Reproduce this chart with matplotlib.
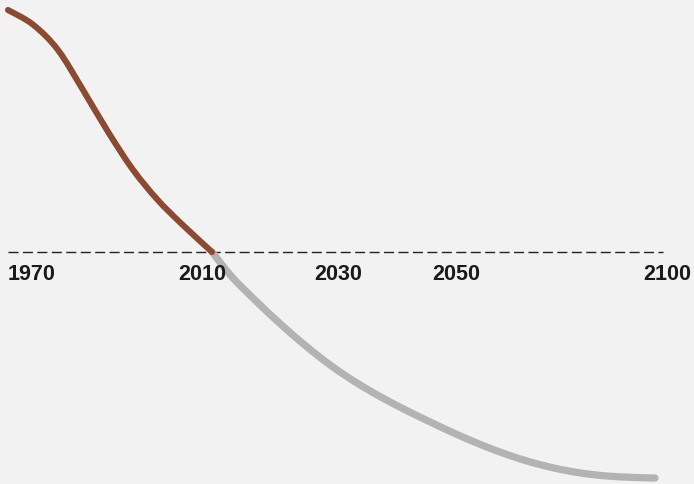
import matplotlib
matplotlib.use("Agg")
import matplotlib.pyplot as plt
from matplotlib.path import Path
from matplotlib.patches import PathPatch

# Historical (brown) series
hist_years = [1970, 1975, 1980, 1985, 1990, 1995, 2000, 2005, 2011]
hist_values = [100, 94.0, 83.6, 67.2, 50.0, 34.3, 21.7, 11.4, 0]

# Projected (grey) series
proj_years = [2011, 2015, 2020, 2025, 2030, 2035, 2040, 2045, 2050, 2055,
              2060, 2065, 2070, 2075, 2080, 2085, 2090, 2095, 2100]
proj_values = [0, -10.3, -20.6, -30.2, -39.1, -47.1, -54.0, -60.0, -65.4, -70.4,
               -75.2, -79.6, -83.5, -86.8, -89.4, -91.3, -92.5, -93.1, -93.4]

tick_labels = ["1970", "2010", "2030", "2050", "2100"]
tick_label_pos = [1974.8, 2009.0, 2036.3, 2060.0, 2102.4]

W, H, DPI = 694, 484, 100
bg = "#f2f2f2"
fig = plt.figure(figsize=(W / DPI, H / DPI), dpi=DPI, facecolor=bg)
ax = fig.add_axes([0, 0, 1, 1])
ax.set_facecolor(bg)

px_per_year = (655 - 8) / 130.0
x0 = 1970 - 8 / px_per_year
x1 = x0 + W / px_per_year
py_per_unit = 2.42
y_top = 100 + 10 / py_per_unit
y_bot = y_top - H / py_per_unit
ax.set_xlim(x0, x1)
ax.set_ylim(y_bot, y_top)
ax.axis("off")


def smooth_path(xs, ys):
    """Catmull-Rom curve through the points, expressed as cubic Bezier segments."""
    pts = list(zip(xs, ys))
    n = len(pts)
    verts = [pts[0]]
    codes = [Path.MOVETO]
    for i in range(n - 1):
        p0 = pts[i - 1] if i > 0 else pts[i]
        p1 = pts[i]
        p2 = pts[i + 1]
        p3 = pts[i + 2] if i + 2 < n else pts[i + 1]
        c1 = (p1[0] + (p2[0] - p0[0]) / 6.0, p1[1] + (p2[1] - p0[1]) / 6.0)
        c2 = (p2[0] - (p3[0] - p1[0]) / 6.0, p2[1] - (p3[1] - p1[1]) / 6.0)
        verts += [c1, c2, p2]
        codes += [Path.CURVE4] * 3
    return Path(verts, codes)


# dashed baseline
ax.plot([1970, x0 + 663 / px_per_year], [0, 0], color="#222222", lw=1.0,
        dashes=(7.2, 3.2), zorder=1)

ax.add_patch(PathPatch(smooth_path(proj_years, proj_values), facecolor="none",
                       edgecolor="#b3b3b3", lw=5.2, capstyle="round",
                       joinstyle="round", zorder=2))
ax.add_patch(PathPatch(smooth_path(hist_years, hist_values), facecolor="none",
                       edgecolor="#8b4a32", lw=4.4, capstyle="round",
                       joinstyle="round", zorder=3))

label_y = -(274 - 252) / py_per_unit
for lab, xp in zip(tick_labels, tick_label_pos):
    ax.text(xp, label_y, lab, ha="center", va="center", fontsize=15.5,
            fontweight="bold", fontfamily="Liberation Sans", color="#1a1a1a")

fig.savefig("out.png", dpi=DPI, facecolor=bg)
